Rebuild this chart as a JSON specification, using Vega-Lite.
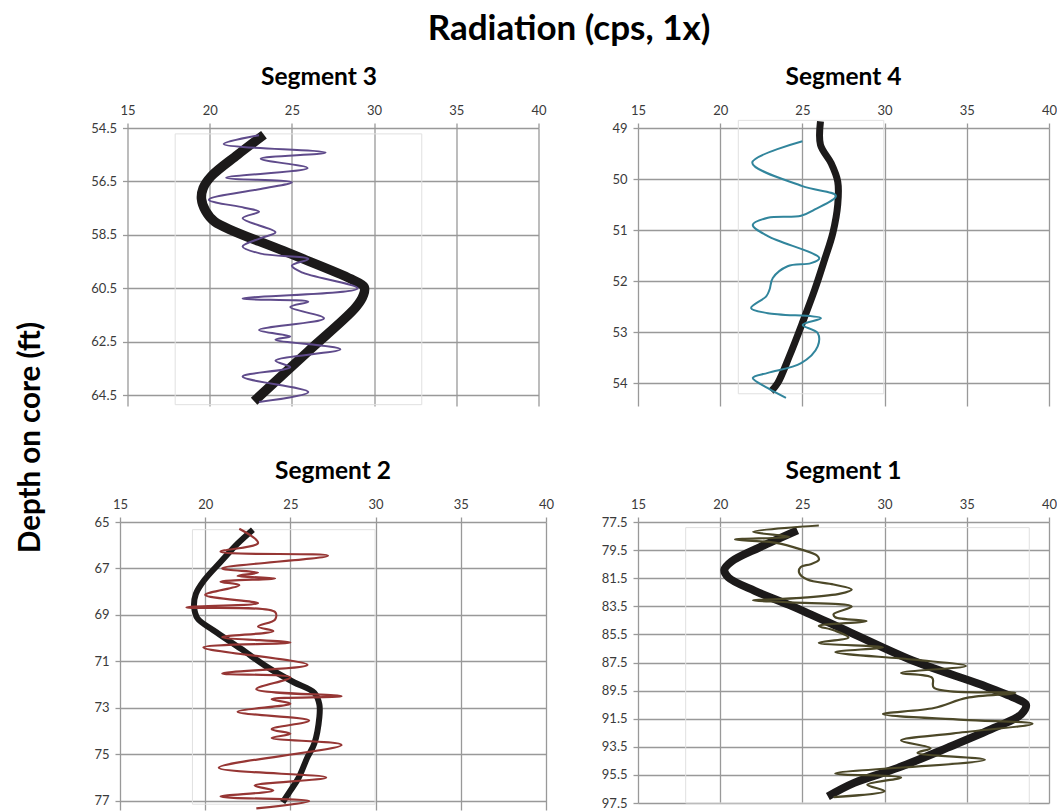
{
  "$schema": "https://vega.github.io/schema/vega-lite/v6.json",
  "padding": {"left": 15, "top": 11, "right": 0, "bottom": 0},
  "background": "white",
  "title": {"text": "Radiation (cps, 1x)", "anchor": "middle", "fontSize": 35, "fontWeight": "bold", "font": "Lato", "color": "#000000", "offset": 18, "dx": 33},
  "config": {
    "font": "Lato",
    "view": {"stroke": null},
    "axis": {"grid": true, "gridColor": "#999999", "gridWidth": 1.3, "domain": false, "tickColor": "#999999", "tickWidth": 1.3, "tickSize": 5, "labelFont": "Lato", "labelFontSize": 13, "labelColor": "#3a3a3a", "labelPadding": 6, "labelFlush": false},
    "title": {"font": "Lato", "fontSize": 24.5, "fontWeight": "bold", "color": "#000000", "offset": 14}
  },
  "datasets": {
    "trend": [
      {"seg": "Segment 3", "v": 23.3, "d": 54.75}, {"seg": "Segment 3", "v": 21.7, "d": 55.5}, {"seg": "Segment 3", "v": 20.1, "d": 56.3}, {"seg": "Segment 3", "v": 19.6, "d": 56.75}, {"seg": "Segment 3", "v": 19.5, "d": 57.15}, {"seg": "Segment 3", "v": 19.75, "d": 57.6}, {"seg": "Segment 3", "v": 20.3, "d": 58.0}, {"seg": "Segment 3", "v": 24.5, "d": 59.1}, {"seg": "Segment 3", "v": 28.6, "d": 60.15}, {"seg": "Segment 3", "v": 29.4, "d": 60.45}, {"seg": "Segment 3", "v": 29.35, "d": 60.75}, {"seg": "Segment 3", "v": 28.9, "d": 61.2}, {"seg": "Segment 3", "v": 26.0, "d": 62.85}, {"seg": "Segment 3", "v": 22.7, "d": 64.72},
      {"seg": "Segment 4", "v": 26.1, "d": 48.87}, {"seg": "Segment 4", "v": 26.1, "d": 49.33}, {"seg": "Segment 4", "v": 26.75, "d": 49.69}, {"seg": "Segment 4", "v": 27.15, "d": 50.05}, {"seg": "Segment 4", "v": 27.15, "d": 50.5}, {"seg": "Segment 4", "v": 26.85, "d": 51.06}, {"seg": "Segment 4", "v": 26.35, "d": 51.58}, {"seg": "Segment 4", "v": 25.75, "d": 52.17}, {"seg": "Segment 4", "v": 25.0, "d": 52.82}, {"seg": "Segment 4", "v": 24.2, "d": 53.48}, {"seg": "Segment 4", "v": 23.5, "d": 54.0}, {"seg": "Segment 4", "v": 23.1, "d": 54.16},
      {"seg": "Segment 2", "v": 22.8, "d": 65.33}, {"seg": "Segment 2", "v": 21.9, "d": 65.93}, {"seg": "Segment 2", "v": 20.9, "d": 66.72}, {"seg": "Segment 2", "v": 19.95, "d": 67.5}, {"seg": "Segment 2", "v": 19.45, "d": 68.1}, {"seg": "Segment 2", "v": 19.35, "d": 68.65}, {"seg": "Segment 2", "v": 19.55, "d": 69.15}, {"seg": "Segment 2", "v": 20.5, "d": 69.67}, {"seg": "Segment 2", "v": 22.1, "d": 70.46}, {"seg": "Segment 2", "v": 23.65, "d": 71.25}, {"seg": "Segment 2", "v": 25.2, "d": 71.9}, {"seg": "Segment 2", "v": 26.4, "d": 72.35}, {"seg": "Segment 2", "v": 26.7, "d": 72.85}, {"seg": "Segment 2", "v": 26.7, "d": 73.4}, {"seg": "Segment 2", "v": 26.4, "d": 74.55}, {"seg": "Segment 2", "v": 26.0, "d": 75.13}, {"seg": "Segment 2", "v": 25.5, "d": 75.99}, {"seg": "Segment 2", "v": 25.0, "d": 76.57}, {"seg": "Segment 2", "v": 24.55, "d": 77.07},
      {"seg": "Segment 1", "v": 24.7, "d": 78.09}, {"seg": "Segment 1", "v": 22.4, "d": 79.3}, {"seg": "Segment 1", "v": 20.7, "d": 80.3}, {"seg": "Segment 1", "v": 20.25, "d": 80.9}, {"seg": "Segment 1", "v": 20.5, "d": 81.45}, {"seg": "Segment 1", "v": 22.1, "d": 82.4}, {"seg": "Segment 1", "v": 24.4, "d": 83.5}, {"seg": "Segment 1", "v": 27.9, "d": 85.35}, {"seg": "Segment 1", "v": 31.9, "d": 87.45}, {"seg": "Segment 1", "v": 35.85, "d": 89.07}, {"seg": "Segment 1", "v": 37.9, "d": 90.02}, {"seg": "Segment 1", "v": 38.6, "d": 90.5}, {"seg": "Segment 1", "v": 38.3, "d": 91.2}, {"seg": "Segment 1", "v": 36.65, "d": 92.16}, {"seg": "Segment 1", "v": 33.8, "d": 93.58}, {"seg": "Segment 1", "v": 30.8, "d": 95.0}, {"seg": "Segment 1", "v": 28.15, "d": 96.07}, {"seg": "Segment 1", "v": 26.55, "d": 97.03}
    ],
    "log": [
      {"seg": "Segment 3", "v": 23.0, "d": 54.77}, {"seg": "Segment 3", "v": 20.85, "d": 55.1}, {"seg": "Segment 3", "v": 27.05, "d": 55.42}, {"seg": "Segment 3", "v": 23.1, "d": 55.65}, {"seg": "Segment 3", "v": 25.95, "d": 56.0}, {"seg": "Segment 3", "v": 21.0, "d": 56.36}, {"seg": "Segment 3", "v": 25.0, "d": 56.53}, {"seg": "Segment 3", "v": 23.1, "d": 56.78}, {"seg": "Segment 3", "v": 19.95, "d": 57.18}, {"seg": "Segment 3", "v": 22.1, "d": 57.48}, {"seg": "Segment 3", "v": 23.0, "d": 57.63}, {"seg": "Segment 3", "v": 22.0, "d": 57.88}, {"seg": "Segment 3", "v": 24.0, "d": 58.4}, {"seg": "Segment 3", "v": 23.1, "d": 58.62}, {"seg": "Segment 3", "v": 22.0, "d": 58.93}, {"seg": "Segment 3", "v": 23.1, "d": 59.2}, {"seg": "Segment 3", "v": 26.0, "d": 59.4}, {"seg": "Segment 3", "v": 25.0, "d": 59.65}, {"seg": "Segment 3", "v": 25.6, "d": 59.9}, {"seg": "Segment 3", "v": 29.0, "d": 60.5}, {"seg": "Segment 3", "v": 22.0, "d": 60.88}, {"seg": "Segment 3", "v": 26.0, "d": 61.0}, {"seg": "Segment 3", "v": 24.9, "d": 61.2}, {"seg": "Segment 3", "v": 26.95, "d": 61.62}, {"seg": "Segment 3", "v": 23.0, "d": 62.06}, {"seg": "Segment 3", "v": 24.9, "d": 62.3}, {"seg": "Segment 3", "v": 24.0, "d": 62.42}, {"seg": "Segment 3", "v": 27.95, "d": 62.78}, {"seg": "Segment 3", "v": 24.0, "d": 63.2}, {"seg": "Segment 3", "v": 24.9, "d": 63.45}, {"seg": "Segment 3", "v": 22.0, "d": 63.8}, {"seg": "Segment 3", "v": 26.0, "d": 64.38}, {"seg": "Segment 3", "v": 23.0, "d": 64.75},
      {"seg": "Segment 4", "v": 25.0, "d": 49.26}, {"seg": "Segment 4", "v": 21.95, "d": 49.68}, {"seg": "Segment 4", "v": 25.0, "d": 50.14}, {"seg": "Segment 4", "v": 27.04, "d": 50.33}, {"seg": "Segment 4", "v": 25.73, "d": 50.6}, {"seg": "Segment 4", "v": 24.92, "d": 50.72}, {"seg": "Segment 4", "v": 22.9, "d": 50.76}, {"seg": "Segment 4", "v": 21.98, "d": 50.9}, {"seg": "Segment 4", "v": 22.9, "d": 51.12}, {"seg": "Segment 4", "v": 26.03, "d": 51.55}, {"seg": "Segment 4", "v": 25.52, "d": 51.65}, {"seg": "Segment 4", "v": 24.1, "d": 51.71}, {"seg": "Segment 4", "v": 23.2, "d": 51.94}, {"seg": "Segment 4", "v": 23.0, "d": 52.17}, {"seg": "Segment 4", "v": 22.8, "d": 52.3}, {"seg": "Segment 4", "v": 21.88, "d": 52.53}, {"seg": "Segment 4", "v": 22.9, "d": 52.63}, {"seg": "Segment 4", "v": 26.13, "d": 52.73}, {"seg": "Segment 4", "v": 25.02, "d": 52.86}, {"seg": "Segment 4", "v": 25.93, "d": 53.02}, {"seg": "Segment 4", "v": 25.93, "d": 53.28}, {"seg": "Segment 4", "v": 24.92, "d": 53.61}, {"seg": "Segment 4", "v": 22.9, "d": 53.8}, {"seg": "Segment 4", "v": 21.98, "d": 53.9}, {"seg": "Segment 4", "v": 22.9, "d": 54.1}, {"seg": "Segment 4", "v": 24.0, "d": 54.29},
      {"seg": "Segment 2", "v": 22.0, "d": 65.29}, {"seg": "Segment 2", "v": 23.1, "d": 65.9}, {"seg": "Segment 2", "v": 20.9, "d": 66.28}, {"seg": "Segment 2", "v": 27.2, "d": 66.45}, {"seg": "Segment 2", "v": 21.0, "d": 67.0}, {"seg": "Segment 2", "v": 23.1, "d": 67.18}, {"seg": "Segment 2", "v": 21.9, "d": 67.32}, {"seg": "Segment 2", "v": 24.1, "d": 67.43}, {"seg": "Segment 2", "v": 20.9, "d": 67.57}, {"seg": "Segment 2", "v": 22.0, "d": 67.72}, {"seg": "Segment 2", "v": 20.0, "d": 68.14}, {"seg": "Segment 2", "v": 23.1, "d": 68.5}, {"seg": "Segment 2", "v": 18.9, "d": 68.68}, {"seg": "Segment 2", "v": 24.1, "d": 68.88}, {"seg": "Segment 2", "v": 24.1, "d": 69.2}, {"seg": "Segment 2", "v": 23.1, "d": 69.5}, {"seg": "Segment 2", "v": 24.0, "d": 69.7}, {"seg": "Segment 2", "v": 21.0, "d": 69.96}, {"seg": "Segment 2", "v": 25.0, "d": 70.19}, {"seg": "Segment 2", "v": 19.9, "d": 70.4}, {"seg": "Segment 2", "v": 26.0, "d": 71.15}, {"seg": "Segment 2", "v": 21.0, "d": 71.52}, {"seg": "Segment 2", "v": 25.0, "d": 71.69}, {"seg": "Segment 2", "v": 23.0, "d": 72.2}, {"seg": "Segment 2", "v": 28.0, "d": 72.5}, {"seg": "Segment 2", "v": 23.9, "d": 72.63}, {"seg": "Segment 2", "v": 25.0, "d": 72.82}, {"seg": "Segment 2", "v": 21.9, "d": 73.17}, {"seg": "Segment 2", "v": 26.1, "d": 73.55}, {"seg": "Segment 2", "v": 23.9, "d": 73.92}, {"seg": "Segment 2", "v": 25.0, "d": 74.12}, {"seg": "Segment 2", "v": 23.9, "d": 74.3}, {"seg": "Segment 2", "v": 28.0, "d": 74.6}, {"seg": "Segment 2", "v": 20.8, "d": 75.58}, {"seg": "Segment 2", "v": 27.1, "d": 76.0}, {"seg": "Segment 2", "v": 22.9, "d": 76.35}, {"seg": "Segment 2", "v": 24.0, "d": 76.56}, {"seg": "Segment 2", "v": 20.9, "d": 76.82}, {"seg": "Segment 2", "v": 26.1, "d": 77.02}, {"seg": "Segment 2", "v": 23.0, "d": 77.33},
      {"seg": "Segment 1", "v": 26.0, "d": 77.75}, {"seg": "Segment 1", "v": 22.0, "d": 78.2}, {"seg": "Segment 1", "v": 24.2, "d": 78.55}, {"seg": "Segment 1", "v": 20.9, "d": 78.75}, {"seg": "Segment 1", "v": 23.3, "d": 78.97}, {"seg": "Segment 1", "v": 24.9, "d": 79.45}, {"seg": "Segment 1", "v": 25.9, "d": 79.9}, {"seg": "Segment 1", "v": 26.0, "d": 80.2}, {"seg": "Segment 1", "v": 25.5, "d": 80.5}, {"seg": "Segment 1", "v": 24.9, "d": 80.7}, {"seg": "Segment 1", "v": 24.8, "d": 81.1}, {"seg": "Segment 1", "v": 25.3, "d": 81.6}, {"seg": "Segment 1", "v": 26.9, "d": 81.95}, {"seg": "Segment 1", "v": 28.0, "d": 82.3}, {"seg": "Segment 1", "v": 27.3, "d": 82.6}, {"seg": "Segment 1", "v": 24.9, "d": 82.9}, {"seg": "Segment 1", "v": 22.0, "d": 83.08}, {"seg": "Segment 1", "v": 24.3, "d": 83.22}, {"seg": "Segment 1", "v": 28.0, "d": 83.52}, {"seg": "Segment 1", "v": 26.9, "d": 84.05}, {"seg": "Segment 1", "v": 27.0, "d": 84.28}, {"seg": "Segment 1", "v": 28.9, "d": 84.55}, {"seg": "Segment 1", "v": 26.0, "d": 84.9}, {"seg": "Segment 1", "v": 26.9, "d": 85.2}, {"seg": "Segment 1", "v": 27.8, "d": 85.72}, {"seg": "Segment 1", "v": 26.0, "d": 86.1}, {"seg": "Segment 1", "v": 29.9, "d": 86.42}, {"seg": "Segment 1", "v": 27.0, "d": 86.76}, {"seg": "Segment 1", "v": 31.8, "d": 87.3}, {"seg": "Segment 1", "v": 34.95, "d": 87.75}, {"seg": "Segment 1", "v": 31.0, "d": 88.25}, {"seg": "Segment 1", "v": 32.9, "d": 88.6}, {"seg": "Segment 1", "v": 33.0, "d": 89.3}, {"seg": "Segment 1", "v": 37.95, "d": 89.66}, {"seg": "Segment 1", "v": 35.0, "d": 90.02}, {"seg": "Segment 1", "v": 33.0, "d": 90.74}, {"seg": "Segment 1", "v": 29.9, "d": 91.17}, {"seg": "Segment 1", "v": 34.8, "d": 91.58}, {"seg": "Segment 1", "v": 39.0, "d": 91.86}, {"seg": "Segment 1", "v": 34.2, "d": 92.54}, {"seg": "Segment 1", "v": 31.0, "d": 93.05}, {"seg": "Segment 1", "v": 32.8, "d": 93.6}, {"seg": "Segment 1", "v": 32.0, "d": 93.93}, {"seg": "Segment 1", "v": 36.1, "d": 94.43}, {"seg": "Segment 1", "v": 27.0, "d": 95.4}, {"seg": "Segment 1", "v": 31.0, "d": 95.68}, {"seg": "Segment 1", "v": 28.95, "d": 96.2}, {"seg": "Segment 1", "v": 30.0, "d": 96.65}, {"seg": "Segment 1", "v": 26.9, "d": 97.08}
    ],
    "frame": [
      {"seg": "Segment 3", "v": 17.9, "v2": 32.9, "d": 54.72, "d2": 64.85},
      {"seg": "Segment 4", "v": 21.1, "v2": 29.95, "d": 48.85, "d2": 54.21},
      {"seg": "Segment 2", "v": 19.25, "v2": 29.97, "d": 65.33, "d2": 77.15},
      {"seg": "Segment 1", "v": 17.9, "v2": 38.8, "d": 77.9, "d2": 97.5}
    ]
  },
  "columns": 2,
  "bounds": "flush",
  "center": true,
  "spacing": {"row": 116, "column": 92},
  "concat": [
    {
      "title": {"text": "Segment 3", "frame": "group", "dx": -14},
      "width": 411, "height": 278,
      "encoding": {
        "x": {"field": "v", "type": "quantitative", "scale": {"domain": [15, 40], "nice": false, "zero": false}, "axis": {"orient": "top", "values": [15, 20, 25, 30, 35, 40], "title": null}},
        "y": {"field": "d", "type": "quantitative", "scale": {"domain": [54.5, 64.9], "reverse": true, "nice": false, "zero": false}, "axis": {"values": [54.5, 56.5, 58.5, 60.5, 62.5, 64.5], "format": ".1f", "title": "Depth on core (ft)", "titleX": -97, "titleY": 309, "titleAngle": -90, "titleAlign": "center", "titleBaseline": "middle", "titleFont": "Lato", "titleFontSize": 29.5, "titleFontWeight": "bold", "titleColor": "#000000"}}
      },
      "layer": [
        {"data": {"name": "frame"}, "transform": [{"filter": "datum.seg == 'Segment 3'"}], "mark": {"type": "rect", "fill": null, "stroke": "#e0e0e0", "strokeWidth": 1}, "encoding": {"x2": {"field": "v2"}, "y2": {"field": "d2"}}},
        {"data": {"name": "trend"}, "transform": [{"filter": "datum.seg == 'Segment 3'"}], "mark": {"type": "line", "color": "#1c1a1a", "strokeWidth": 9.5, "interpolate": "catmull-rom"}, "encoding": {"order": {"field": "d", "type": "quantitative"}}},
        {"data": {"name": "log"}, "transform": [{"filter": "datum.seg == 'Segment 3'"}], "mark": {"type": "line", "color": "#5f4b8b", "strokeWidth": 2, "interpolate": "catmull-rom"}, "encoding": {"order": {"field": "d", "type": "quantitative"}}}
      ]
    },
    {
      "title": {"text": "Segment 4"},
      "width": 411, "height": 278,
      "encoding": {
        "x": {"field": "v", "type": "quantitative", "scale": {"domain": [15, 40], "nice": false, "zero": false}, "axis": {"orient": "top", "values": [15, 20, 25, 30, 35, 40], "title": null}},
        "y": {"field": "d", "type": "quantitative", "scale": {"domain": [49, 54.45], "reverse": true, "nice": false, "zero": false}, "axis": {"values": [49, 50, 51, 52, 53, 54], "format": "d", "title": null}}
      },
      "layer": [
        {"data": {"name": "frame"}, "transform": [{"filter": "datum.seg == 'Segment 4'"}], "mark": {"type": "rect", "fill": null, "stroke": "#e0e0e0", "strokeWidth": 1}, "encoding": {"x2": {"field": "v2"}, "y2": {"field": "d2"}}},
        {"data": {"name": "trend"}, "transform": [{"filter": "datum.seg == 'Segment 4'"}], "mark": {"type": "line", "color": "#1c1a1a", "strokeWidth": 7, "interpolate": "catmull-rom"}, "encoding": {"order": {"field": "d", "type": "quantitative"}}},
        {"data": {"name": "log"}, "transform": [{"filter": "datum.seg == 'Segment 4'"}], "mark": {"type": "line", "color": "#31859c", "strokeWidth": 2, "interpolate": "catmull-rom"}, "encoding": {"order": {"field": "d", "type": "quantitative"}}}
      ]
    },
    {
      "title": {"text": "Segment 2"},
      "width": 426, "height": 288,
      "encoding": {
        "x": {"field": "v", "type": "quantitative", "scale": {"domain": [15, 40], "nice": false, "zero": false}, "axis": {"orient": "top", "values": [15, 20, 25, 30, 35, 40], "title": null}},
        "y": {"field": "d", "type": "quantitative", "scale": {"domain": [65, 77.4], "reverse": true, "nice": false, "zero": false}, "axis": {"values": [65, 67, 69, 71, 73, 75, 77], "format": "d", "title": null}}
      },
      "layer": [
        {"data": {"name": "frame"}, "transform": [{"filter": "datum.seg == 'Segment 2'"}], "mark": {"type": "rect", "fill": null, "stroke": "#e0e0e0", "strokeWidth": 1}, "encoding": {"x2": {"field": "v2"}, "y2": {"field": "d2"}}},
        {"data": {"name": "trend"}, "transform": [{"filter": "datum.seg == 'Segment 2'"}], "mark": {"type": "line", "color": "#1c1a1a", "strokeWidth": 6, "interpolate": "catmull-rom"}, "encoding": {"order": {"field": "d", "type": "quantitative"}}},
        {"data": {"name": "log"}, "transform": [{"filter": "datum.seg == 'Segment 2'"}], "mark": {"type": "line", "color": "#963634", "strokeWidth": 2.2, "interpolate": "catmull-rom"}, "encoding": {"order": {"field": "d", "type": "quantitative"}}}
      ]
    },
    {
      "title": {"text": "Segment 1"},
      "width": 411, "height": 281,
      "encoding": {
        "x": {"field": "v", "type": "quantitative", "scale": {"domain": [15, 40], "nice": false, "zero": false}, "axis": {"orient": "top", "values": [15, 20, 25, 30, 35, 40], "title": null}},
        "y": {"field": "d", "type": "quantitative", "scale": {"domain": [77.5, 97.5], "reverse": true, "nice": false, "zero": false}, "axis": {"values": [77.5, 79.5, 81.5, 83.5, 85.5, 87.5, 89.5, 91.5, 93.5, 95.5, 97.5], "format": ".1f", "title": null}}
      },
      "layer": [
        {"data": {"name": "frame"}, "transform": [{"filter": "datum.seg == 'Segment 1'"}], "mark": {"type": "rect", "fill": null, "stroke": "#e0e0e0", "strokeWidth": 1}, "encoding": {"x2": {"field": "v2"}, "y2": {"field": "d2"}}},
        {"data": {"name": "trend"}, "transform": [{"filter": "datum.seg == 'Segment 1'"}], "mark": {"type": "line", "color": "#1c1a1a", "strokeWidth": 8, "interpolate": "catmull-rom"}, "encoding": {"order": {"field": "d", "type": "quantitative"}}},
        {"data": {"name": "log"}, "transform": [{"filter": "datum.seg == 'Segment 1'"}], "mark": {"type": "line", "color": "#4c4828", "strokeWidth": 2.2, "interpolate": "catmull-rom"}, "encoding": {"order": {"field": "d", "type": "quantitative"}}}
      ]
    }
  ]
}
